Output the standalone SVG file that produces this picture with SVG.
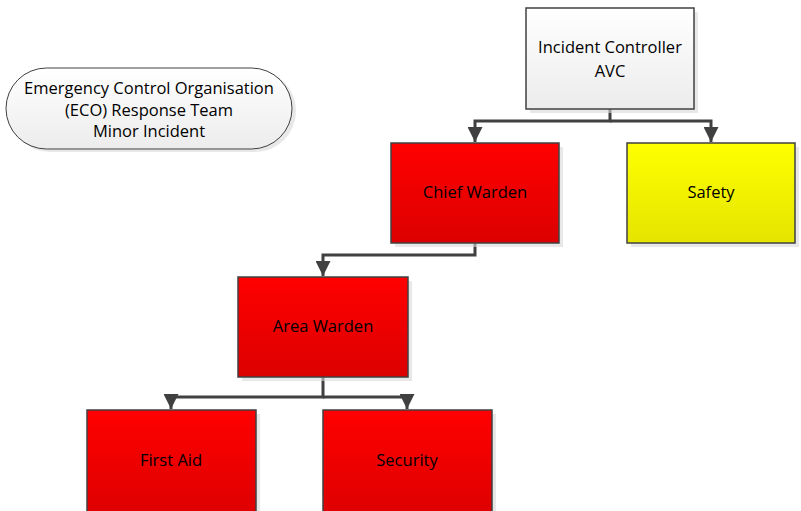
<svg xmlns="http://www.w3.org/2000/svg" width="801" height="511" viewBox="0 0 801 511">
<defs>
<linearGradient id="gRed" x1="0" y1="0" x2="0" y2="1"><stop offset="0" stop-color="#ff0000"/><stop offset="1" stop-color="#dc0000"/></linearGradient>
<linearGradient id="gYel" x1="0" y1="0" x2="0" y2="1"><stop offset="0" stop-color="#ffff00"/><stop offset="1" stop-color="#e4e400"/></linearGradient>
<linearGradient id="gWhite" x1="0" y1="0" x2="0" y2="1"><stop offset="0" stop-color="#ffffff"/><stop offset="1" stop-color="#ececec"/></linearGradient>
<marker id="arr" markerWidth="15" markerHeight="15" viewBox="0 0 15 15" refX="15" refY="7.5" orient="auto" markerUnits="userSpaceOnUse"><path d="M0,0 L15,7.5 L0,15 Z" fill="#404040"/></marker>
</defs>
<style>
.box{stroke:#404040;stroke-width:1.5}
.shadow{fill:#d8d8d8;opacity:0.6}
.lbl{font-family:"Open Sans","Liberation Sans",sans-serif;font-size:16.5px;fill:#000;text-anchor:middle}
.conn{fill:none;stroke:#404040;stroke-width:3}
</style>
<rect width="801" height="511" fill="#ffffff"/>
<g id="title">
<rect x="9" y="70" width="287" height="82" rx="41" class="shadow"/>
<rect x="6" y="68" width="286" height="81" rx="40.5" fill="url(#gWhite)" stroke="#404040" stroke-width="1"/>
<text class="lbl" x="149" y="94">Emergency Control Organisation</text>
<text class="lbl" x="149" y="116">(ECO) Response Team</text>
<text class="lbl" x="149" y="137">Minor Incident</text>
</g>
<g id="connectors">
<path class="conn" d="M610,109 V121 H475 V142" marker-end="url(#arr)"/>
<path class="conn" d="M610,121 H711 V142" marker-end="url(#arr)"/>
<path class="conn" d="M475,243 V255 H323 V276" marker-end="url(#arr)"/>
<path class="conn" d="M323,377 V397 H171 V409" marker-end="url(#arr)"/>
<path class="conn" d="M323,397 H407 V409" marker-end="url(#arr)"/>
</g>
<g id="incident-controller">
<rect x="530" y="12" width="168" height="101" class="shadow"/>
<rect x="526" y="8" width="168" height="101" fill="url(#gWhite)" class="box"/>
<text class="lbl" x="610" y="53">Incident Controller</text>
<text class="lbl" x="610" y="77">AVC</text>
</g>
<g id="chief-warden">
<rect x="395" y="147" width="168" height="100" class="shadow"/>
<rect x="391" y="143" width="168" height="100" fill="url(#gRed)" class="box"/>
<text class="lbl" x="475" y="198">Chief Warden</text>
</g>
<g id="safety">
<rect x="631" y="147" width="168" height="100" class="shadow"/>
<rect x="627" y="143" width="168" height="100" fill="url(#gYel)" class="box"/>
<text class="lbl" x="711" y="198">Safety</text>
</g>
<g id="area-warden">
<rect x="242" y="281" width="170" height="100" class="shadow"/>
<rect x="238" y="277" width="170" height="100" fill="url(#gRed)" class="box"/>
<text class="lbl" x="323" y="332">Area Warden</text>
</g>
<g id="first-aid">
<rect x="91" y="414" width="169" height="100" class="shadow"/>
<rect x="87" y="410" width="169" height="110" fill="url(#gRed)" class="box"/>
<text class="lbl" x="171" y="466">First Aid</text>
</g>
<g id="security">
<rect x="327" y="414" width="169" height="100" class="shadow"/>
<rect x="323" y="410" width="169" height="110" fill="url(#gRed)" class="box"/>
<text class="lbl" x="407" y="466">Security</text>
</g>
</svg>
